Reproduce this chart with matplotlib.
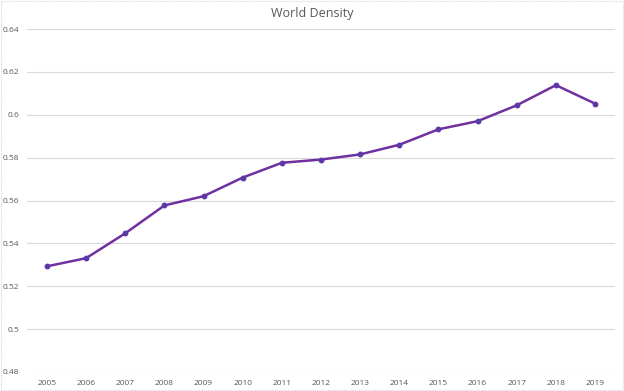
import matplotlib
matplotlib.use("Agg")
import matplotlib.pyplot as plt
from matplotlib.patches import Rectangle

years = ["2005", "2006", "2007", "2008", "2009", "2010", "2011", "2012",
         "2013", "2014", "2015", "2016", "2017", "2018", "2019"]
density = [0.5293, 0.5331, 0.5447, 0.5577, 0.5620, 0.5707, 0.5776, 0.5791,
           0.5815, 0.5860, 0.5932, 0.5970, 0.6044, 0.6138, 0.6052]
yticks = [0.48, 0.50, 0.52, 0.54, 0.56, 0.58, 0.60, 0.62, 0.64]
ytick_labels = ["0.48", "0.5", "0.52", "0.54", "0.56", "0.58", "0.6", "0.62", "0.64"]

plt.rcParams['font.family'] = ['Open Sans', 'DejaVu Sans']

fig = plt.figure(figsize=(6.24, 3.91), dpi=100)
ax = fig.add_axes([27.4/624, 1-372/391, (614.6-27.4)/624, (372-29)/391])

x = list(range(len(years)))
ax.plot(x, density, color="#7030A0", linewidth=1.8, zorder=3)
ax.plot(x, density, linestyle="none", marker="o", markersize=3.2,
        color="#5B3AA8", zorder=4)

ax.set_xlim(-0.5, len(years) - 0.5)
ax.set_ylim(0.48, 0.64)
ax.set_xticks(x)
ax.set_xticklabels(years)
ax.set_yticks(yticks)
ax.set_yticklabels(ytick_labels)
ax.tick_params(axis='both', length=0, labelsize=6, colors="#595959")
ax.tick_params(axis='x', pad=6)
ax.tick_params(axis='y', pad=6)
ax.grid(axis='y', color="#d9d9d9", linewidth=0.8)
ax.set_axisbelow(True)
for s in ax.spines.values():
    s.set_visible(False)

fig.text(0.5, 1-13/391, "World Density", ha="center", va="center",
         fontsize=9, color="#595959")

fig.patches.append(Rectangle((0.002, 0.003), 0.996, 0.994, transform=fig.transFigure,
                             fill=False, edgecolor="#e3cde6", linewidth=0.8,
                             linestyle=(0, (1, 1))))

fig.savefig("out.png", dpi=100)
